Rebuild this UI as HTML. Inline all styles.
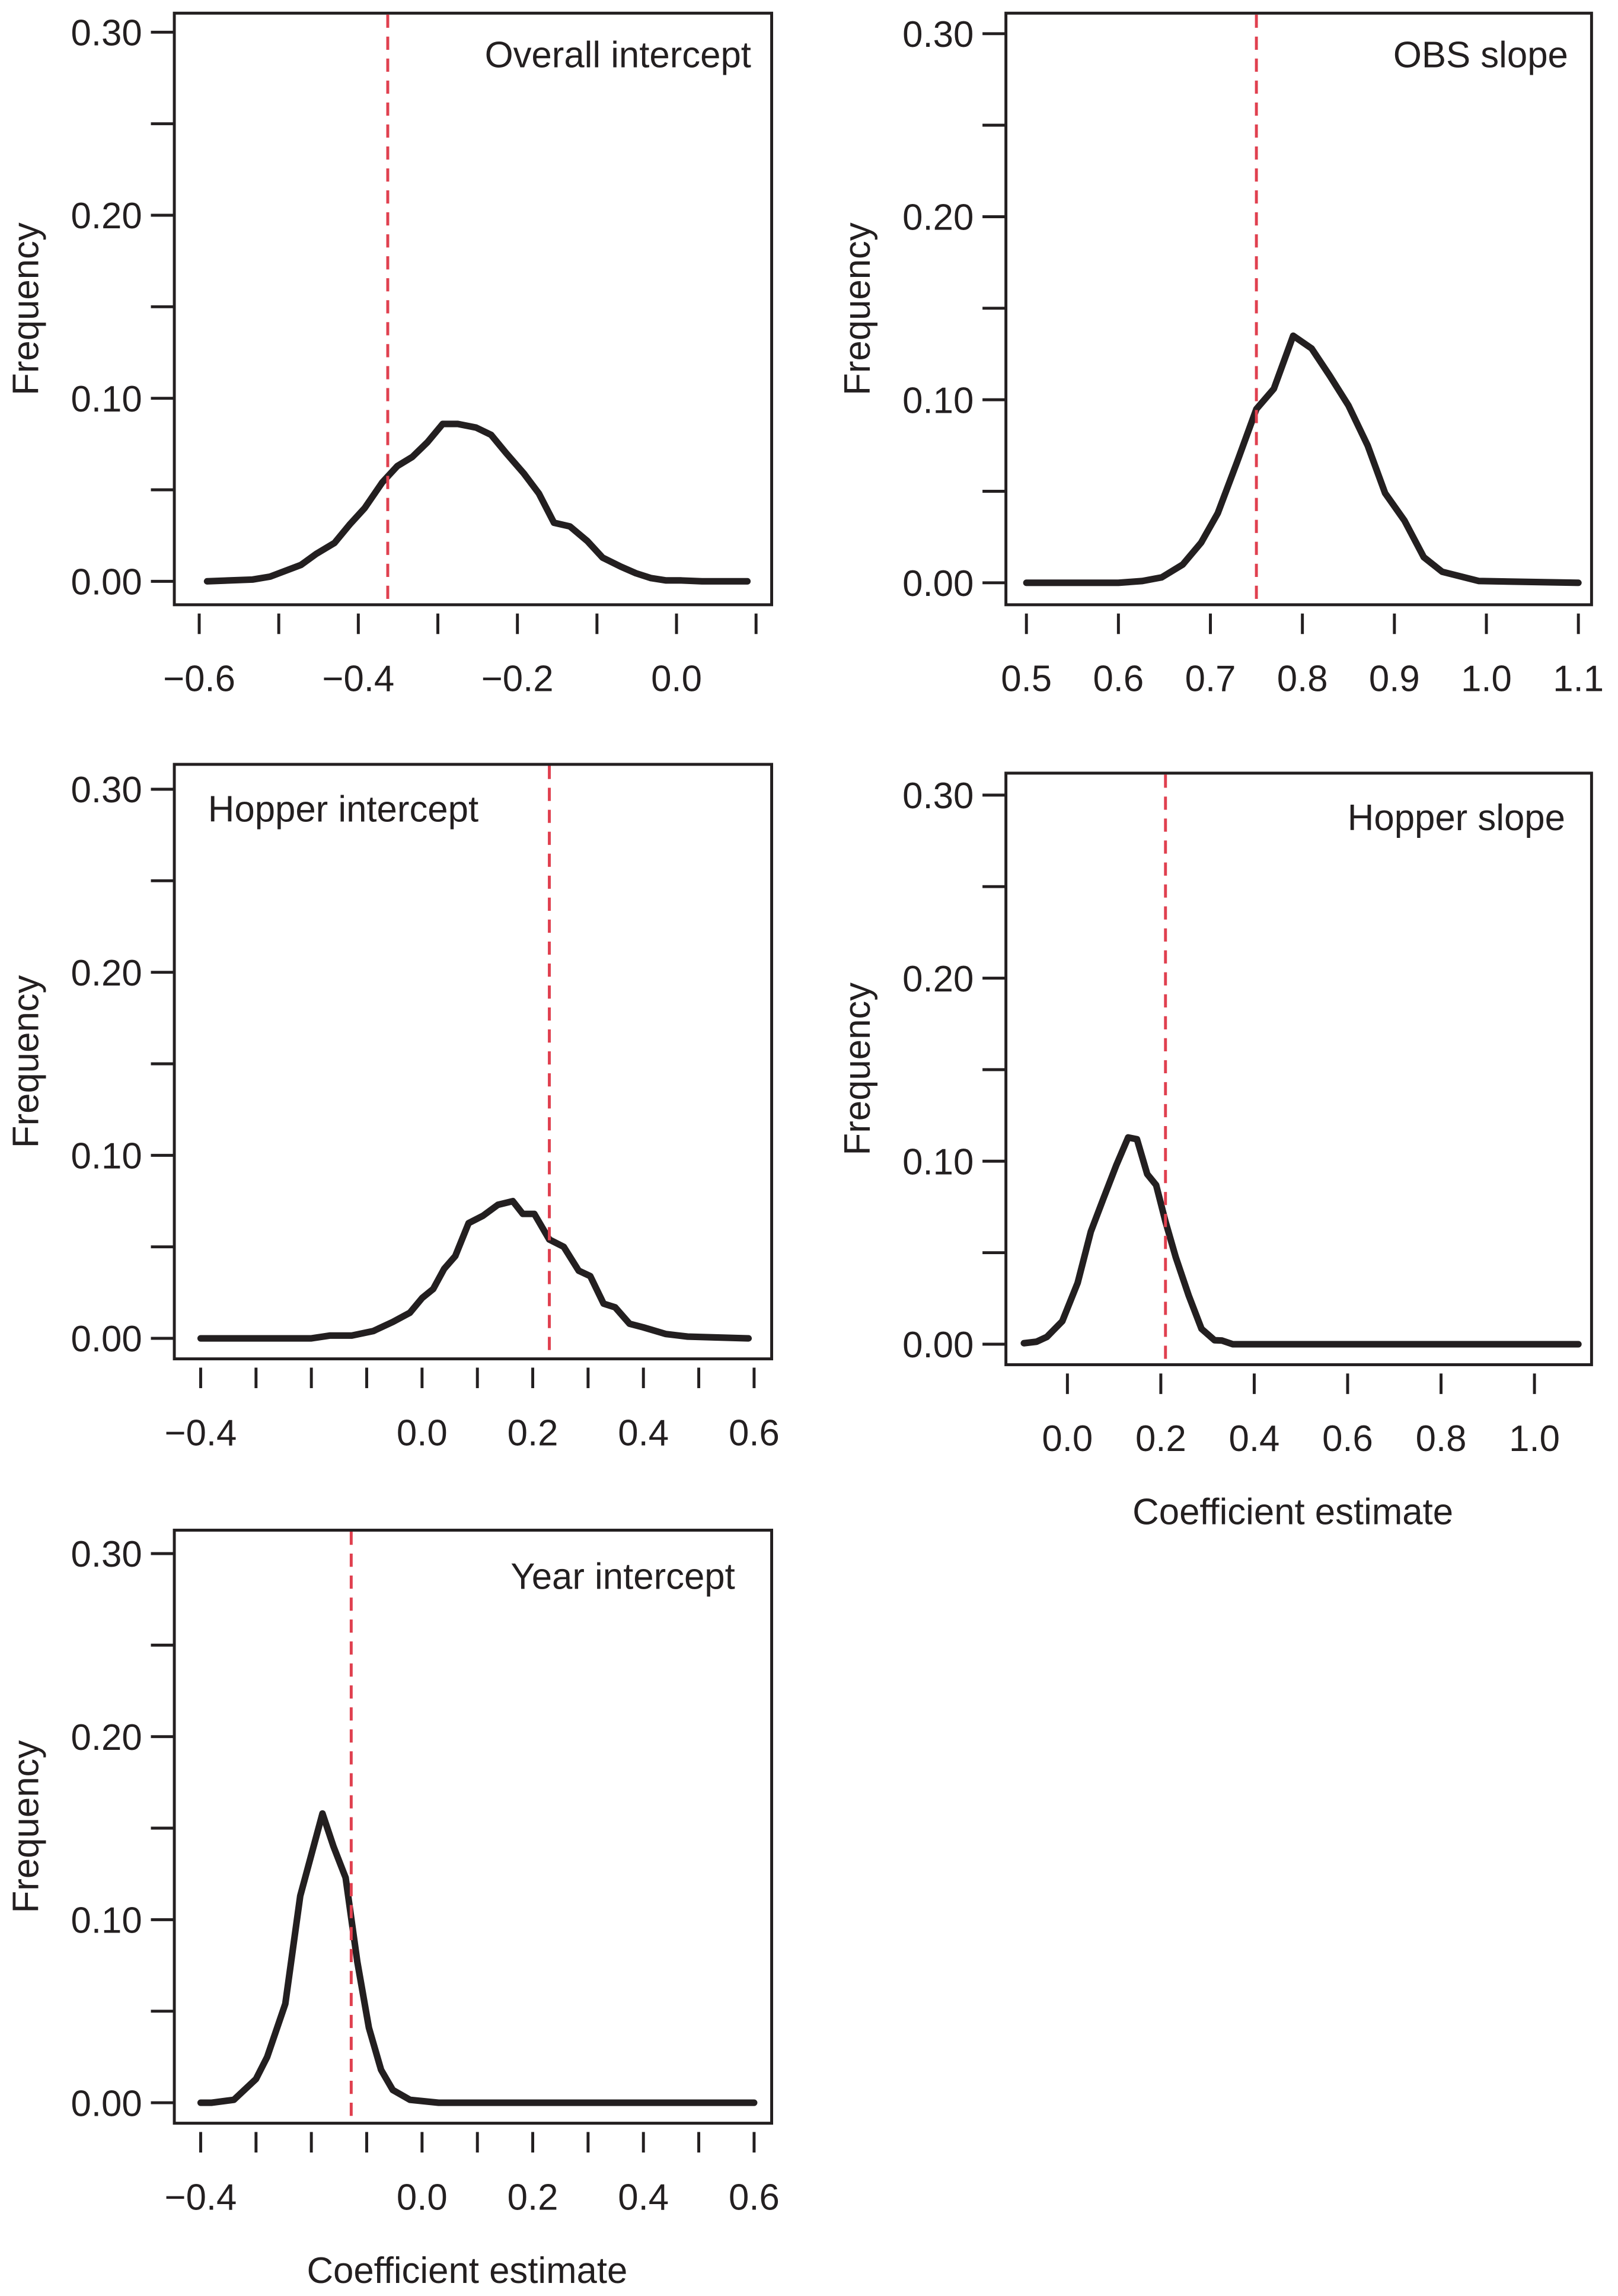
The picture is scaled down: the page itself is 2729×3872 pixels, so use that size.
<!DOCTYPE html>
<html><head><meta charset="utf-8"><style>
html,body{margin:0;padding:0;background:#fff;}
svg{display:block;}
text{font-family:"Liberation Sans",sans-serif;fill:#231f20;}
</style></head><body>
<svg id="chart" width="2729" height="3872" viewBox="0 0 1105 1568" xmlns="http://www.w3.org/2000/svg"></svg>
<script>
// ---- data ----
const p1X=[-0.59,-0.533,-0.511,-0.472,-0.453,-0.43,-0.411,-0.392,-0.37,-0.351,-0.332,-0.313,-0.294,-0.275,-0.252,-0.233,-0.214,-0.192,-0.173,-0.154,-0.134,-0.112,-0.093,-0.07,-0.051,-0.032,-0.013,0.006,0.032,0.089];
const p1Y=[0,0.001,0.0026,0.009,0.015,0.021,0.031,0.040,0.054,0.063,0.068,0.076,0.086,0.086,0.084,0.080,0.070,0.059,0.048,0.032,0.030,0.022,0.013,0.008,0.0044,0.0018,0.0005,0.0005,0,0];
const p1Ref=-0.363;
const p2X=[0.50,0.60,0.626,0.647,0.67,0.69,0.708,0.729,0.75,0.769,0.79,0.81,0.83,0.85,0.871,0.89,0.911,0.932,0.952,0.992,1.1];
const p2Y=[0,0,0.001,0.003,0.010,0.022,0.038,0.066,0.095,0.106,0.135,0.128,0.113,0.097,0.075,0.049,0.034,0.014,0.006,0.001,0];
const p2Ref=0.75;
const p3X=[-0.4,-0.2,-0.167,-0.127,-0.088,-0.053,-0.022,0.0,0.02,0.04,0.06,0.084,0.11,0.137,0.164,0.182,0.203,0.23,0.256,0.283,0.304,0.328,0.349,0.375,0.40,0.44,0.48,0.59];
const p3Y=[0,0,0.0015,0.0015,0.004,0.009,0.014,0.022,0.027,0.038,0.045,0.063,0.067,0.073,0.075,0.068,0.068,0.054,0.050,0.037,0.034,0.019,0.017,0.008,0.006,0.0024,0.001,0];
const p3Ref=0.23;
const p4X=[-0.093,-0.066,-0.044,-0.011,0.022,0.05,0.077,0.105,0.13,0.149,0.171,0.19,0.21,0.232,0.26,0.287,0.315,0.331,0.354,1.094];
const p4Y=[0.0006,0.0014,0.004,0.0126,0.0335,0.0615,0.0796,0.098,0.113,0.112,0.093,0.087,0.067,0.0475,0.0265,0.0084,0.0022,0.002,0,0];
const p4Ref=0.21;
const p5X=[-0.4,-0.38,-0.34,-0.30,-0.28,-0.247,-0.22,-0.18,-0.16,-0.138,-0.117,-0.096,-0.074,-0.053,-0.022,0.03,0.6];
const p5Y=[0,0,0.0016,0.013,0.025,0.054,0.113,0.158,0.14,0.123,0.077,0.041,0.018,0.007,0.0016,0,0];
const p5Ref=-0.128;
const yTicks=[0,0.05,0.10,0.15,0.20,0.25,0.30];
const yLabels=["0.00","","0.10","","0.20","","0.30"];
const ticks1=[-0.6,-0.5,-0.4,-0.3,-0.2,-0.1,0.0,0.1];
const labels1=["−0.6","","−0.4","","−0.2","","0.0",""];
const ticks2=[0.5,0.6,0.7,0.8,0.9,1.0,1.1];
const labels2=["0.5","0.6","0.7","0.8","0.9","1.0","1.1"];
const ticks3=[-0.4,-0.3,-0.2,-0.1,0.0,0.1,0.2,0.3,0.4,0.5,0.6];
const labels3=["−0.4","","","","0.0","","0.2","","0.4","","0.6"];
const ticks4=[0.0,0.2,0.4,0.6,0.8,1.0];
const labels4=["0.0","0.2","0.4","0.6","0.8","1.0"];
const ticks5=[-0.4,-0.3,-0.2,-0.1,0.0,0.1,0.2,0.3,0.4,0.5,0.6];
const labels5=["−0.4","","","","0.0","","0.2","","0.4","","0.6"];

const panels=[
 {name:"overall-intercept",title:"Overall intercept",anchor:"end",tx:513,ty:46,box:[119,9,527,413],xv:[-0.6,0.0],xp:[136,462],yp:[397,22],xs:p1X,ys:p1Y,ref:p1Ref,ticks:ticks1,labels:labels1,xlab:false},
 {name:"obs-slope",title:"OBS slope",anchor:"end",tx:1071,ty:46,box:[687,9,1087,413],xv:[0.5,1.1],xp:[701,1078],yp:[398,23],xs:p2X,ys:p2Y,ref:p2Ref,ticks:ticks2,labels:labels2,xlab:false},
 {name:"hopper-intercept",title:"Hopper intercept",anchor:"start",tx:142,ty:561,box:[119,522,527,928],xv:[-0.4,0.6],xp:[137,515],yp:[914,539],xs:p3X,ys:p3Y,ref:p3Ref,ticks:ticks3,labels:labels3,xlab:false},
 {name:"hopper-slope",title:"Hopper slope",anchor:"end",tx:1069,ty:567,box:[687,528,1087,932],xv:[0.0,1.0],xp:[729,1048],yp:[918,543],xs:p4X,ys:p4Y,ref:p4Ref,ticks:ticks4,labels:labels4,xlab:true},
 {name:"year-intercept",title:"Year intercept",anchor:"end",tx:502,ty:1085,box:[119,1045,527,1450],xv:[-0.4,0.6],xp:[137,515],yp:[1436,1061],xs:p5X,ys:p5Y,ref:p5Ref,ticks:ticks5,labels:labels5,xlab:true}
];
const NS="http://www.w3.org/2000/svg";
const svg=document.getElementById('chart');
function mk(tag,attrs,parent){const e=document.createElementNS(NS,tag);for(const k in attrs)e.setAttribute(k,attrs[k]);parent.appendChild(e);return e;}
panels.forEach(p=>{
 const g=mk('g',{},svg);
 
 
 const X=v=>p.xp[0]+(v-p.xv[0])*(p.xp[1]-p.xp[0])/(p.xv[1]-p.xv[0]);
 const Y=v=>p.yp[0]+v*(p.yp[1]-p.yp[0])/0.30;
 const [x0,y0,x1,y1]=p.box;
 const box=mk('rect',{x:x0,y:y0,width:x1-x0,height:y1-y0,fill:'none',stroke:'#231f20','stroke-width':2},g);
 
 
 yTicks.forEach((t,i)=>{
  const ln=mk('line',{x1:x0-16,x2:x0,y1:Y(t),y2:Y(t),stroke:'#231f20','stroke-width':2},g);
  
  
  if(yLabels[i]){
   const tx=mk('text',{x:x0-22,y:Y(t)+9,'text-anchor':'end','font-size':25},g);
   tx.textContent=yLabels[i];
   
   
  }
 });
 p.ticks.forEach((t,i)=>{
  const ln=mk('line',{x1:X(t),x2:X(t),y1:y1+6,y2:y1+20,stroke:'#231f20','stroke-width':2},g);
  
  
  if(p.labels[i]){
   const tx=mk('text',{x:X(t),y:y1+59,'text-anchor':'middle','font-size':25},g);
   tx.textContent=p.labels[i];
   
   
  }
 });
 const yl=mk('text',{x:0,y:0,'text-anchor':'middle','font-size':25,transform:`translate(${x0-93},${(y0+y1)/2}) rotate(-90)`},g);
 yl.textContent='Frequency';
 
 
 if(p.xlab){
  const xl=mk('text',{x:(x0+x1)/2-4,y:y1+109,'text-anchor':'middle','font-size':25},g);
  xl.textContent='Coefficient estimate';
  
  
 }
 const ti=mk('text',{x:p.tx,y:p.ty,'text-anchor':p.anchor,'font-size':25},g);
 ti.textContent=p.title;
 
 
 const pts=p.xs.map((v,i)=>X(v).toFixed(1)+','+Y(p.ys[i]).toFixed(1)).join(' ');
 const pl=mk('polyline',{points:pts,fill:'none',stroke:'#231f20','stroke-width':4.5,'stroke-linejoin':'round','stroke-linecap':'round'},g);
 
 
 const rl=mk('line',{x1:X(p.ref),x2:X(p.ref),y1:y0+1,y2:y1-1,stroke:'#e0404f','stroke-width':2,'stroke-dasharray':'9,6'},g);
 
 
});
</script>
</body></html>
